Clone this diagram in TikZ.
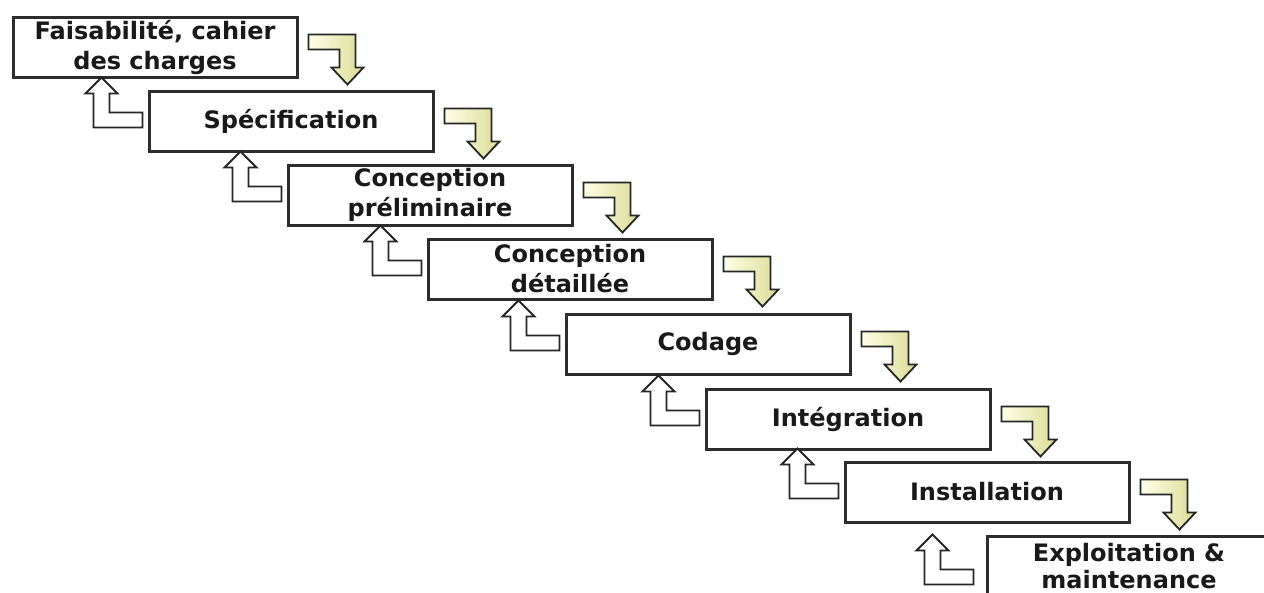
\documentclass[tikz,border=0pt]{standalone}
\usepackage{fontspec}
\setmainfont{DejaVu Sans}
\usetikzlibrary{calc}
\definecolor{boxline}{RGB}{45,45,45}
\definecolor{ylight}{RGB}{254,254,232}
\definecolor{ydark}{RGB}{220,220,150}
\tikzset{
  stagebox/.style={draw=boxline, line width=3pt, fill=white,
    minimum width=284pt, minimum height=60pt, inner sep=0pt, align=center,
    font=\fontsize{24}{30}\selectfont\bfseries, text=black!90},
  downarrow/.style={draw=black!85, line width=1.8pt, line join=miter,
    left color=ylight, right color=ydark},
  uparrow/.style={draw=black!85, line width=1.8pt, line join=miter, fill=white},
}
\begin{document}
\begin{tikzpicture}[x=1pt,y=-1pt]
\useasboundingbox (0,0) rectangle (1264,592);
\clip (0,0) rectangle (1264,592);
\fill[white] (0,0) rectangle (1264,592);

\node[stagebox] (b1) at (155,47)  {\raisebox{-3pt}{\parbox{284pt}{\centering Faisabilité, cahier\\des charges}}};
\node[stagebox] (b2) at (291,121) {Spécification};
\node[stagebox] (b3) at (430,195) {Conception\\préliminaire};
\node[stagebox] (b4) at (570,269) {Conception\\détaillée};
\node[stagebox] (b5) at (708,344) {Codage};
\node[stagebox] (b6) at (848,419) {Intégration};
\node[stagebox] (b7) at (987,492) {Installation};
\node[stagebox, font=\fontsize{24}{27}\selectfont\bfseries] (b8) at (1129,566) {Exploitation \&\\maintenance};

% yellow "next step" arrows: from right side of upper box down to next box
\foreach \i/\j in {1/2,2/3,3/4,4/5,5/6,6/7,7/8}{
  \begin{scope}[shift={(b\i.north east)}]
    \path[downarrow] (10,19) -- (57,19) -- (57,52) -- (65,52) -- (49,69)
      -- (33,52) -- (41,52) -- (41,34) -- (10,34) -- cycle;
  \end{scope}
}
% white "feedback" arrows: from left side of lower box up to previous box
\foreach \i/\j/\ox/\oy in {1/2/0/0,2/3/0/0,3/4/0/0,4/5/0/0,5/6/0/0,6/7/0/0,7/8/-7/12}{
  \begin{scope}[shift={(b\j.north west)}, xshift=\ox pt, yshift=-\oy pt]
    \path[uparrow] (-5,23) -- (-38,23) -- (-38,4) -- (-30,4) -- (-46,-12)
      -- (-62,4) -- (-54,4) -- (-54,38) -- (-5,38) -- cycle;
  \end{scope}
}
\end{tikzpicture}
\end{document}
